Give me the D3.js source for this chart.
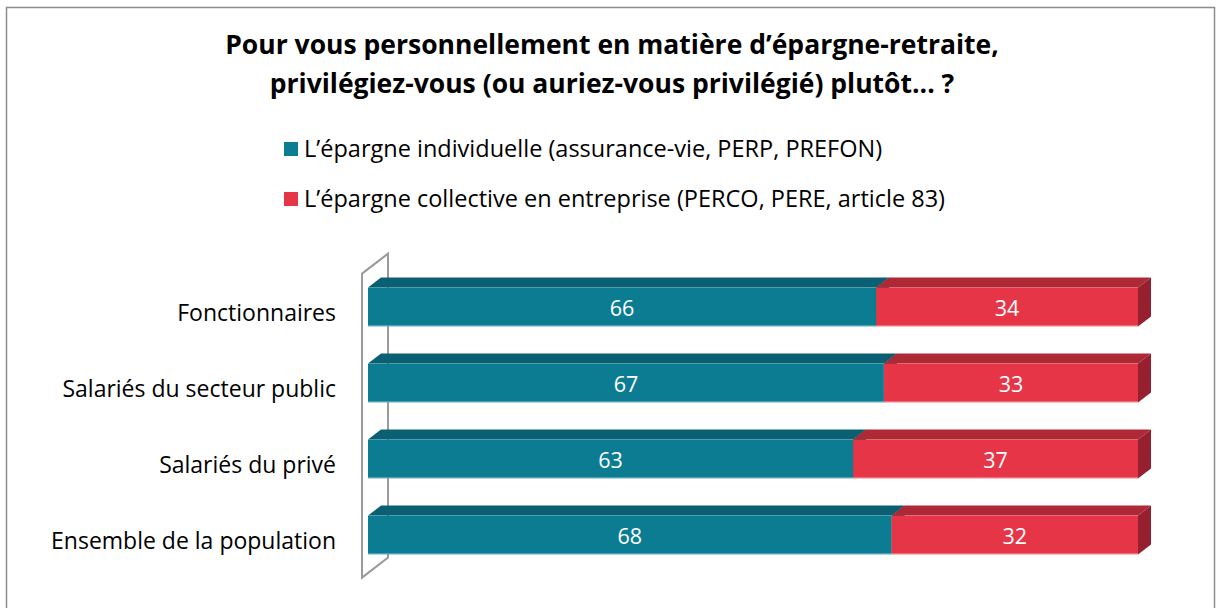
<!DOCTYPE html>
<html>
<head>
<meta charset="utf-8">
<script src="https://cdn.jsdelivr.net/npm/d3@7.9.0/dist/d3.min.js"></script>
<style>
  html, body { margin: 0; padding: 0; background: #fff; }
  svg { display: block; font-family: "Open Sans", Lato, sans-serif; }
</style>
</head>
<body>
<svg id="chart" width="1216" height="608"></svg>
<script>
var categories = ['Fonctionnaires', 'Salariés du secteur public', 'Salariés du privé', 'Ensemble de la population']
var individuelle = [66, 67, 63, 68]
var collective = [34, 33, 37, 32]
var seriesNames = [
    'L\u2019épargne individuelle (assurance-vie, PERP, PREFON)',
    'L\u2019épargne collective en entreprise (PERCO, PERE, article 83)'
]
var titleLines = [
    'Pour vous personnellement en matière d\u2019épargne-retraite,',
    'privilégiez-vous (ou auriez-vous privilégié) plutôt... ?'
]

var COLORS = {
    teal: { front: '#0c7c93', top: '#0a6072', side: '#085565' },
    red: { front: '#e63547', top: '#ae2836', side: '#962030' }
}

var W = 1216, H = 608
var svg = d3.select('#chart')

// frame
svg.append('rect')
    .attr('x', 6.5).attr('y', 7.5)
    .attr('width', W - 8).attr('height', H)
    .attr('fill', '#fff').attr('stroke', '#8c8c8c').attr('stroke-width', 1.5)

// title
svg.append('g').selectAll('text')
    .data(titleLines)
    .join('text')
    .attr('x', 612)
    .attr('y', function (d, i) { return 54 + i * 39 })
    .attr('text-anchor', 'middle')
    .attr('font-size', 26.5)
    .attr('font-weight', 'bold')
    .attr('fill', '#000')
    .text(function (d) { return d })

// legend
var leg = svg.append('g').selectAll('g')
    .data(seriesNames)
    .join('g')
    .attr('transform', function (d, i) { return 'translate(284,' + (142 + i * 50) + ')' })
leg.append('rect')
    .attr('width', 14).attr('height', 14)
    .attr('fill', function (d, i) { return i === 0 ? COLORS.teal.front : COLORS.red.front })
leg.append('text')
    .attr('x', 20).attr('y', 15)
    .attr('font-size', 23.5)
    .attr('fill', '#000')
    .text(function (d) { return d })

// scales (front plane of bars)
var x = d3.scaleLinear().domain([0, 100]).range([368, 1138])
var y = d3.scaleBand().domain(categories).range([269, 573]).paddingInner(0.49).paddingOuter(0.245)

// depth
var DX = 26, DY = 20, F0 = 0.23, F1 = 0.73
var bdx = (F1 - F0) * DX, bdy = (F1 - F0) * DY

// side wall
var y0 = y.range()[0], y1 = y.range()[1], x0 = x(0)
var wall = [
    [x0 - F0 * DX, y0 + F0 * DY],
    [x0 + (1 - F0) * DX, y0 - (1 - F0) * DY],
    [x0 + (1 - F0) * DX, y1 - (1 - F0) * DY],
    [x0 - F0 * DX, y1 + F0 * DY]
]
svg.append('path')
    .attr('d', 'M' + wall.join('L') + 'Z')
    .attr('fill', 'none')
    .attr('stroke', '#9a9a9a')
    .attr('stroke-width', 2)

function poly(pts) { return 'M' + pts.join('L') + 'Z' }

var rows = categories.map(function (c, i) {
    return { cat: c, a: individuelle[i], b: collective[i] }
})

var bars = svg.append('g').selectAll('g')
    .data(rows)
    .join('g')

bars.each(function (d) {
    var g = d3.select(this)
    var top = y(d.cat), bot = top + y.bandwidth()
    var segs = [
        { from: 0, to: d.a, c: COLORS.teal, v: d.a },
        { from: d.a, to: d.a + d.b, c: COLORS.red, v: d.b }
    ]
    segs.forEach(function (s) {
        var xa = x(s.from), xb = x(s.to)
        g.append('path')
            .attr('d', poly([[xa, top], [xa + bdx, top - bdy], [xb + bdx, top - bdy], [xb, top]]))
            .attr('fill', s.c.top)
        g.append('path')
            .attr('d', poly([[xb, top], [xb + bdx, top - bdy], [xb + bdx, bot - bdy], [xb, bot]]))
            .attr('fill', s.c.side)
    })
    segs.forEach(function (s) {
        var xa = x(s.from), xb = x(s.to)
        g.append('rect')
            .attr('x', xa).attr('y', top)
            .attr('width', xb - xa).attr('height', bot - top)
            .attr('fill', s.c.front)
        g.append('text')
            .attr('x', (xa + xb) / 2)
            .attr('y', (top + bot) / 2 + 8.5)
            .attr('text-anchor', 'middle')
            .attr('font-size', 21.5)
            .attr('fill', '#fff')
            .text(s.v)
    })
    g.append('line')
        .attr('x1', x(0)).attr('x2', x(100))
        .attr('y1', bot - 0.5).attr('y2', bot - 0.5)
        .attr('stroke', 'rgba(255,255,255,0.45)')
})

// category labels
svg.append('g').selectAll('text')
    .data(categories)
    .join('text')
    .attr('x', 336)
    .attr('y', function (d) { return y(d) + y.bandwidth() / 2 + 14 })
    .attr('text-anchor', 'end')
    .attr('font-size', 23)
    .attr('fill', '#000')
    .text(function (d) { return d })
</script>
</body>
</html>
